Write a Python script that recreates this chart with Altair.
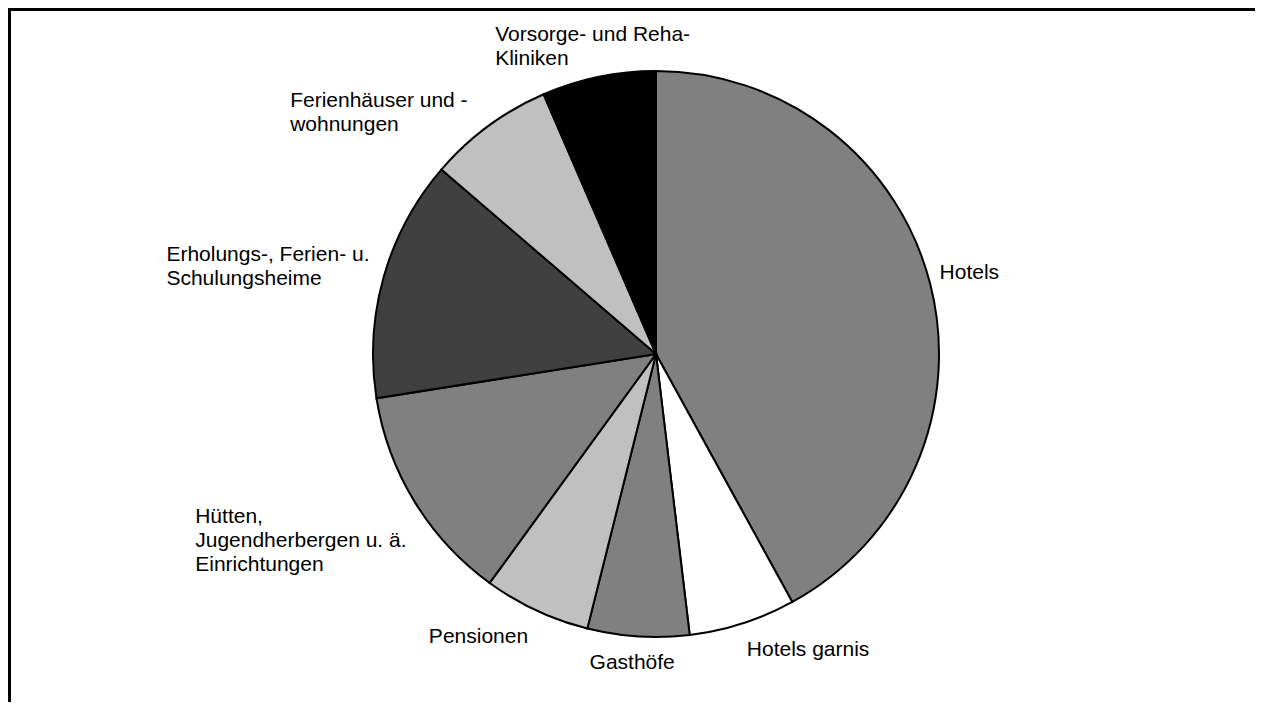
import altair as alt
import pandas as pd

# ---- data ----
categories = [
    "Hotels",
    "Hotels garnis",
    "Gasthöfe",
    "Pensionen",
    "Hütten, Jugendherbergen u. ä. Einrichtungen",
    "Erholungs-, Ferien- u. Schulungsheime",
    "Ferienhäuser und -wohnungen",
    "Vorsorge- und Reha-Kliniken",
]
label_lines = [
    "Hotels",
    "Hotels garnis",
    "Gasthöfe",
    "Pensionen",
    "Hütten,\nJugendherbergen u. ä.\nEinrichtungen",
    "Erholungs-, Ferien- u.\nSchulungsheime",
    "Ferienhäuser und -\nwohnungen",
    "Vorsorge- und Reha-\nKliniken",
]
shares = [42.0, 6.1, 5.8, 6.1, 12.5, 13.8, 7.2, 6.5]
colors = ["#808080", "#ffffff", "#808080", "#c0c0c0",
          "#808080", "#404040", "#c0c0c0", "#000000"]

df = pd.DataFrame({
    "category": categories,
    "label": label_lines,
    "share": shares,
    "order": list(range(len(categories))),
})
total = float(sum(shares))

W, H = 1247, 694
CX, CY = 648, 346
R = 283
LABEL_R = 300
FONT = "Liberation Sans"

pie = alt.Chart(df).mark_arc(
    outerRadius=R, stroke="#000000", strokeWidth=2
).encode(
    theta=alt.Theta("share:Q", stack=True),
    order=alt.Order("order:Q"),
    color=alt.Color("category:N", scale=alt.Scale(domain=categories, range=colors), legend=None),
    x=alt.value(CX),
    y=alt.value(CY),
)

# label styling per slice: (align, dx, dy)
label_style = [
    ("left", -7, -6),
    ("left", -1, 10),
    ("center", -5, 10),
    ("right", -1, 11),
    ("left", -205, 6),
    ("left", -201, -17),
    ("left", -188, -11),
    ("left", -100, -25),
]

label_base = alt.Chart(df).transform_window(
    cum="sum(share)", sort=[alt.SortField("order")], frame=[None, 0]
).transform_calculate(
    mid="datum.cum - datum.share / 2",
    lines="split(datum.label, '\\n')",
)

label_layers = []
for i, (al, ddx, ddy) in enumerate(label_style):
    label_layers.append(
        label_base.transform_filter(alt.datum.order == i).mark_text(
            align=al, baseline="middle", dx=ddx, dy=ddy, font=FONT, fontSize=21,
            lineHeight=24, color="#000000",
        ).encode(
            theta=alt.Theta("mid:Q", scale=alt.Scale(domain=[0, total])),
            radius=alt.value(LABEL_R),
            text=alt.Text("lines:N"),
            x=alt.value(CX),
            y=alt.value(CY),
        )
    )

frame_top = alt.Chart(df).mark_rule(color="#000000", strokeWidth=3).encode(
    x=alt.value(0), x2=alt.value(W), y=alt.value(1.5)
)
frame_left = alt.Chart(df).mark_rule(color="#000000", strokeWidth=3).encode(
    x=alt.value(1.5), y=alt.value(0), y2=alt.value(H)
)

chart = alt.layer(pie, *label_layers, frame_top, frame_left).properties(
    width=W, height=H, padding=0, autosize=alt.AutoSizeParams(type="none"),
    background="#ffffff",
).configure_view(strokeWidth=0)

chart.save("out.html", embed_options={"renderer": "svg", "actions": False})
